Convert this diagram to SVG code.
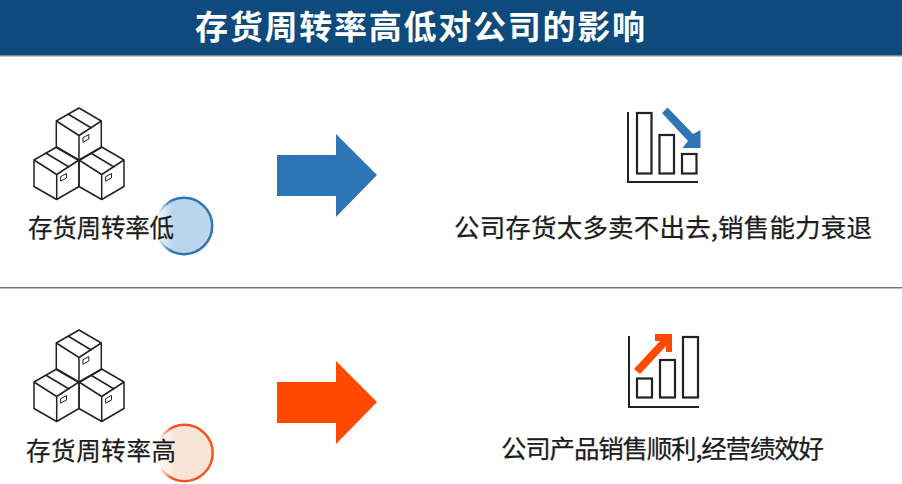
<svg xmlns="http://www.w3.org/2000/svg" xmlns:xlink="http://www.w3.org/1999/xlink" width="902" height="484" viewBox="0 0 902 484">
<style>
text{font-family:"Noto Sans CJK SC","Noto Sans",sans-serif;fill:#1c1c1c;font-size:24.500px;font-weight:400;stroke:#1c1c1c;stroke-width:0.250px}
.title{fill:#fff;stroke:none;font-size:33px;font-weight:700}
.body{font-size:25.500px}
.ln{fill:none;stroke:#222;stroke-width:1.500;stroke-linejoin:round;stroke-linecap:round}
.thin{stroke-width:1}
.bar{fill:#fff;stroke:#222;stroke-width:2.200}
.axis{fill:none;stroke:#222;stroke-width:2}
</style>
<defs>
<g id="cube">
<path class="ln" d="M22.700 0L45 13L22.700 27.500L0 13ZM0 13V39.500L22.700 52.500L45 39.500V13M22.700 27.500V52.500M11.700 6L35 20"/>
<path class="ln thin" d="M27 29.500L32.500 26.500V31L27 34Z"/>
</g>
<g id="boxes">
<use xlink:href="#cube" x="22.300" y="0"/>
<use xlink:href="#cube" x="0" y="39"/>
<use xlink:href="#cube" x="45" y="39"/>
</g>
<linearGradient id="gBlue" gradientUnits="userSpaceOnUse" x1="157" x2="172" y1="0" y2="0"><stop offset="0" stop-color="#fff"/><stop offset="1" stop-color="#bdd6ee"/></linearGradient>
<linearGradient id="gRed" gradientUnits="userSpaceOnUse" x1="157" x2="175" y1="0" y2="0"><stop offset="0" stop-color="#fff"/><stop offset="1" stop-color="#f9e5d8"/></linearGradient>
<linearGradient id="sBlue" gradientUnits="userSpaceOnUse" x1="158" x2="172" y1="0" y2="0"><stop offset="0" stop-color="#2e75b6" stop-opacity="0"/><stop offset="1" stop-color="#2e75b6"/></linearGradient>
<linearGradient id="sRed" gradientUnits="userSpaceOnUse" x1="160" x2="172" y1="0" y2="0"><stop offset="0" stop-color="#f0561d" stop-opacity="0"/><stop offset="1" stop-color="#f0561d"/></linearGradient>
</defs>
<rect width="902" height="484" fill="#fff"/>
<g id="header">
<rect width="902" height="55" fill="#0e4a7b"/>
<rect y="55" width="902" height="1.500" fill="#8a8a8a"/>
<text class="title" x="195" y="39" textLength="450">存货周转率高低对公司的影响</text>
</g>
<rect id="divider" y="287" width="902" height="1.500" fill="#777"/>
<g id="row1-source">
<use xlink:href="#boxes" x="34" y="108"/>
<circle cx="184" cy="226" r="28.200" fill="url(#gBlue)" stroke="url(#sBlue)" stroke-width="2.500"/>
<text x="28" y="237" textLength="146">存货周转率低</text>
</g>
<g id="row2-source">
<use xlink:href="#boxes" x="34" y="330"/>
<circle cx="184.500" cy="453" r="28.200" fill="url(#gRed)" stroke="url(#sRed)" stroke-width="2.500"/>
<text x="26" y="460" textLength="150">存货周转率高</text>
</g>
<g id="connectors">
<path id="arrow-blue" d="M277 155H336V134L377 175L336 217V196H277Z" fill="#2e75b6"/>
<path id="arrow-red" d="M277 382H336V361L377 402L336 444V423H277Z" fill="#ff4800"/>
</g>
<g id="row1-chart">
<path class="axis" d="M628 112V182H698"/>
<rect class="bar" x="637" y="113" width="14.500" height="60.500"/>
<rect class="bar" x="659.500" y="135" width="14.500" height="38.500"/>
<rect class="bar" x="682" y="154" width="14.500" height="19.500"/>
<path d="M662 113L667.500 107.500L693 134L700.500 130V148H682.500L688 141Z" fill="#2e75b6"/>
</g>
<g id="row2-chart">
<path class="axis" d="M629 336V407H699"/>
<rect class="bar" x="637" y="378.500" width="15" height="19"/>
<rect class="bar" x="660" y="360" width="15" height="37.500"/>
<rect class="bar" x="683" y="337" width="15" height="60.500"/>
<path d="M634 369L660 341H655V334H672V352H666V346L640 374Z" fill="#ff4800"/>
</g>
<text class="body" id="row1-result" x="454" y="237" textLength="418">公司存货太多卖不出去,销售能力衰退</text>
<text class="body" id="row2-result" x="501" y="458" textLength="323">公司产品销售顺利,经营绩效好</text>
</svg>
